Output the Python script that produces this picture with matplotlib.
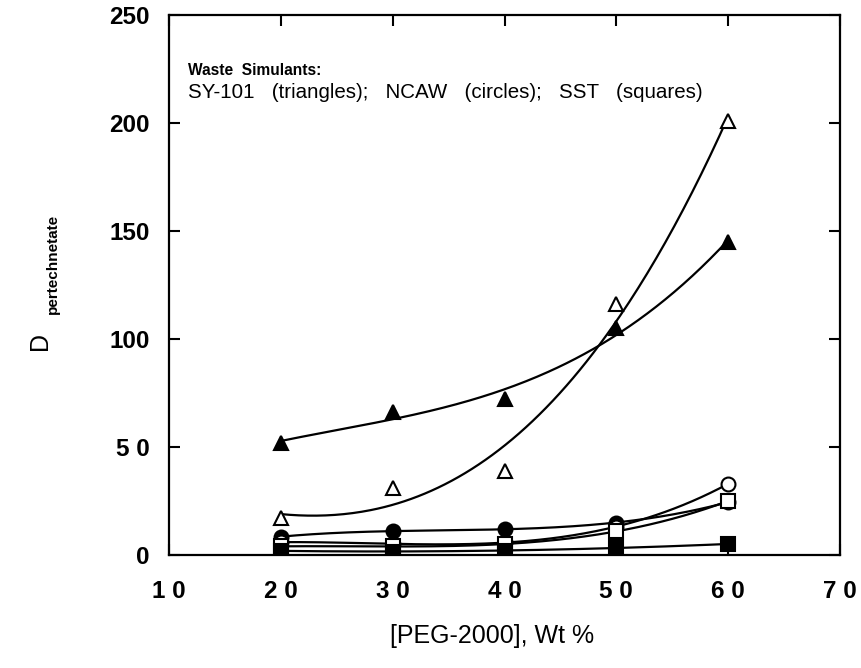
import numpy as np
import matplotlib
matplotlib.use("Agg")
import matplotlib.pyplot as plt

peg_wt = [20, 30, 40, 50, 60]
sy101_filled = [52, 66, 72, 105, 145]
sy101_open = [17, 31, 39, 116, 201]
ncaw_filled = [8.5, 11, 12, 15, 24.5]
ncaw_open = [6, 5, 6, 13, 33]
sst_open = [4, 4, 5, 11, 25]
sst_filled = [2, 1.5, 2, 3.5, 5]

xticks = [10, 20, 30, 40, 50, 60, 70]
yticks = [0, 50, 100, 150, 200, 250]

plt.rcParams['font.family'] = ['Liberation Sans', 'DejaVu Sans']

fig = plt.figure(figsize=(8.61, 6.68), dpi=100)
ax = fig.add_axes([169/861, 1-555/668, (840-169)/861, (555-15)/668])

x = np.array(peg_wt, dtype=float)
xs = np.linspace(20, 60, 200)

series = [
    (sy101_filled, '^', 'black', 3),
    (sy101_open, '^', 'white', 3),
    (ncaw_filled, 'o', 'black', 3),
    (ncaw_open, 'o', 'white', 3),
    (sst_open, 's', 'white', 3),
    (sst_filled, 's', 'black', 2),
]
for ys, m, fc, deg in series:
    coef = np.polyfit(x, ys, deg)
    ax.plot(xs, np.polyval(coef, xs), color='black', lw=1.6, zorder=2)
for ys, m, fc, deg in series:
    ax.plot(x, ys, linestyle='none', marker=m, markersize=10,
            markerfacecolor=fc, markeredgecolor='black', markeredgewidth=1.5, zorder=3)

ax.set_xlim(10, 70)
ax.set_ylim(0, 250)
ax.set_xticks(xticks)
ax.set_yticks(yticks)
ax.set_xticklabels([" ".join(str(v)) for v in xticks])
ax.set_yticklabels([str(v) if v >= 100 or v == 0 else " ".join(str(v)) for v in yticks])
ax.tick_params(direction='in', length=8, width=1.5, top=True, right=True,
               labelsize=17.5)
ax.tick_params(axis='x', pad=18)
ax.tick_params(axis='y', pad=14)
for lab in ax.get_xticklabels() + ax.get_yticklabels():
    lab.set_fontweight('bold')
for s in ax.spines.values():
    s.set_linewidth(1.6)

ax.set_xlabel("[PEG-2000], Wt %", fontsize=18)
ax.xaxis.set_label_coords((492-169)/(840-169), -(636-555)/540)
ax.xaxis.label.set_va('center')

fig.text(40/861, 1-341/668, "D", rotation=90, fontsize=18, ha='center', va='center')
fig.text(53/861, 1-264/668, "pertechnetate", rotation=90, fontsize=11,
         fontweight='bold', ha='center', va='center')

ax.text(0.029, 0.898, "Waste  Simulants:", transform=ax.transAxes, fontsize=11.2,
        fontweight='bold', ha='left', va='center')
ax.text(0.029, 0.856, "SY-101   (triangles);   NCAW   (circles);   SST   (squares)",
        transform=ax.transAxes, fontsize=14.8, ha='left', va='center')

fig.savefig("out.png", dpi=100)
